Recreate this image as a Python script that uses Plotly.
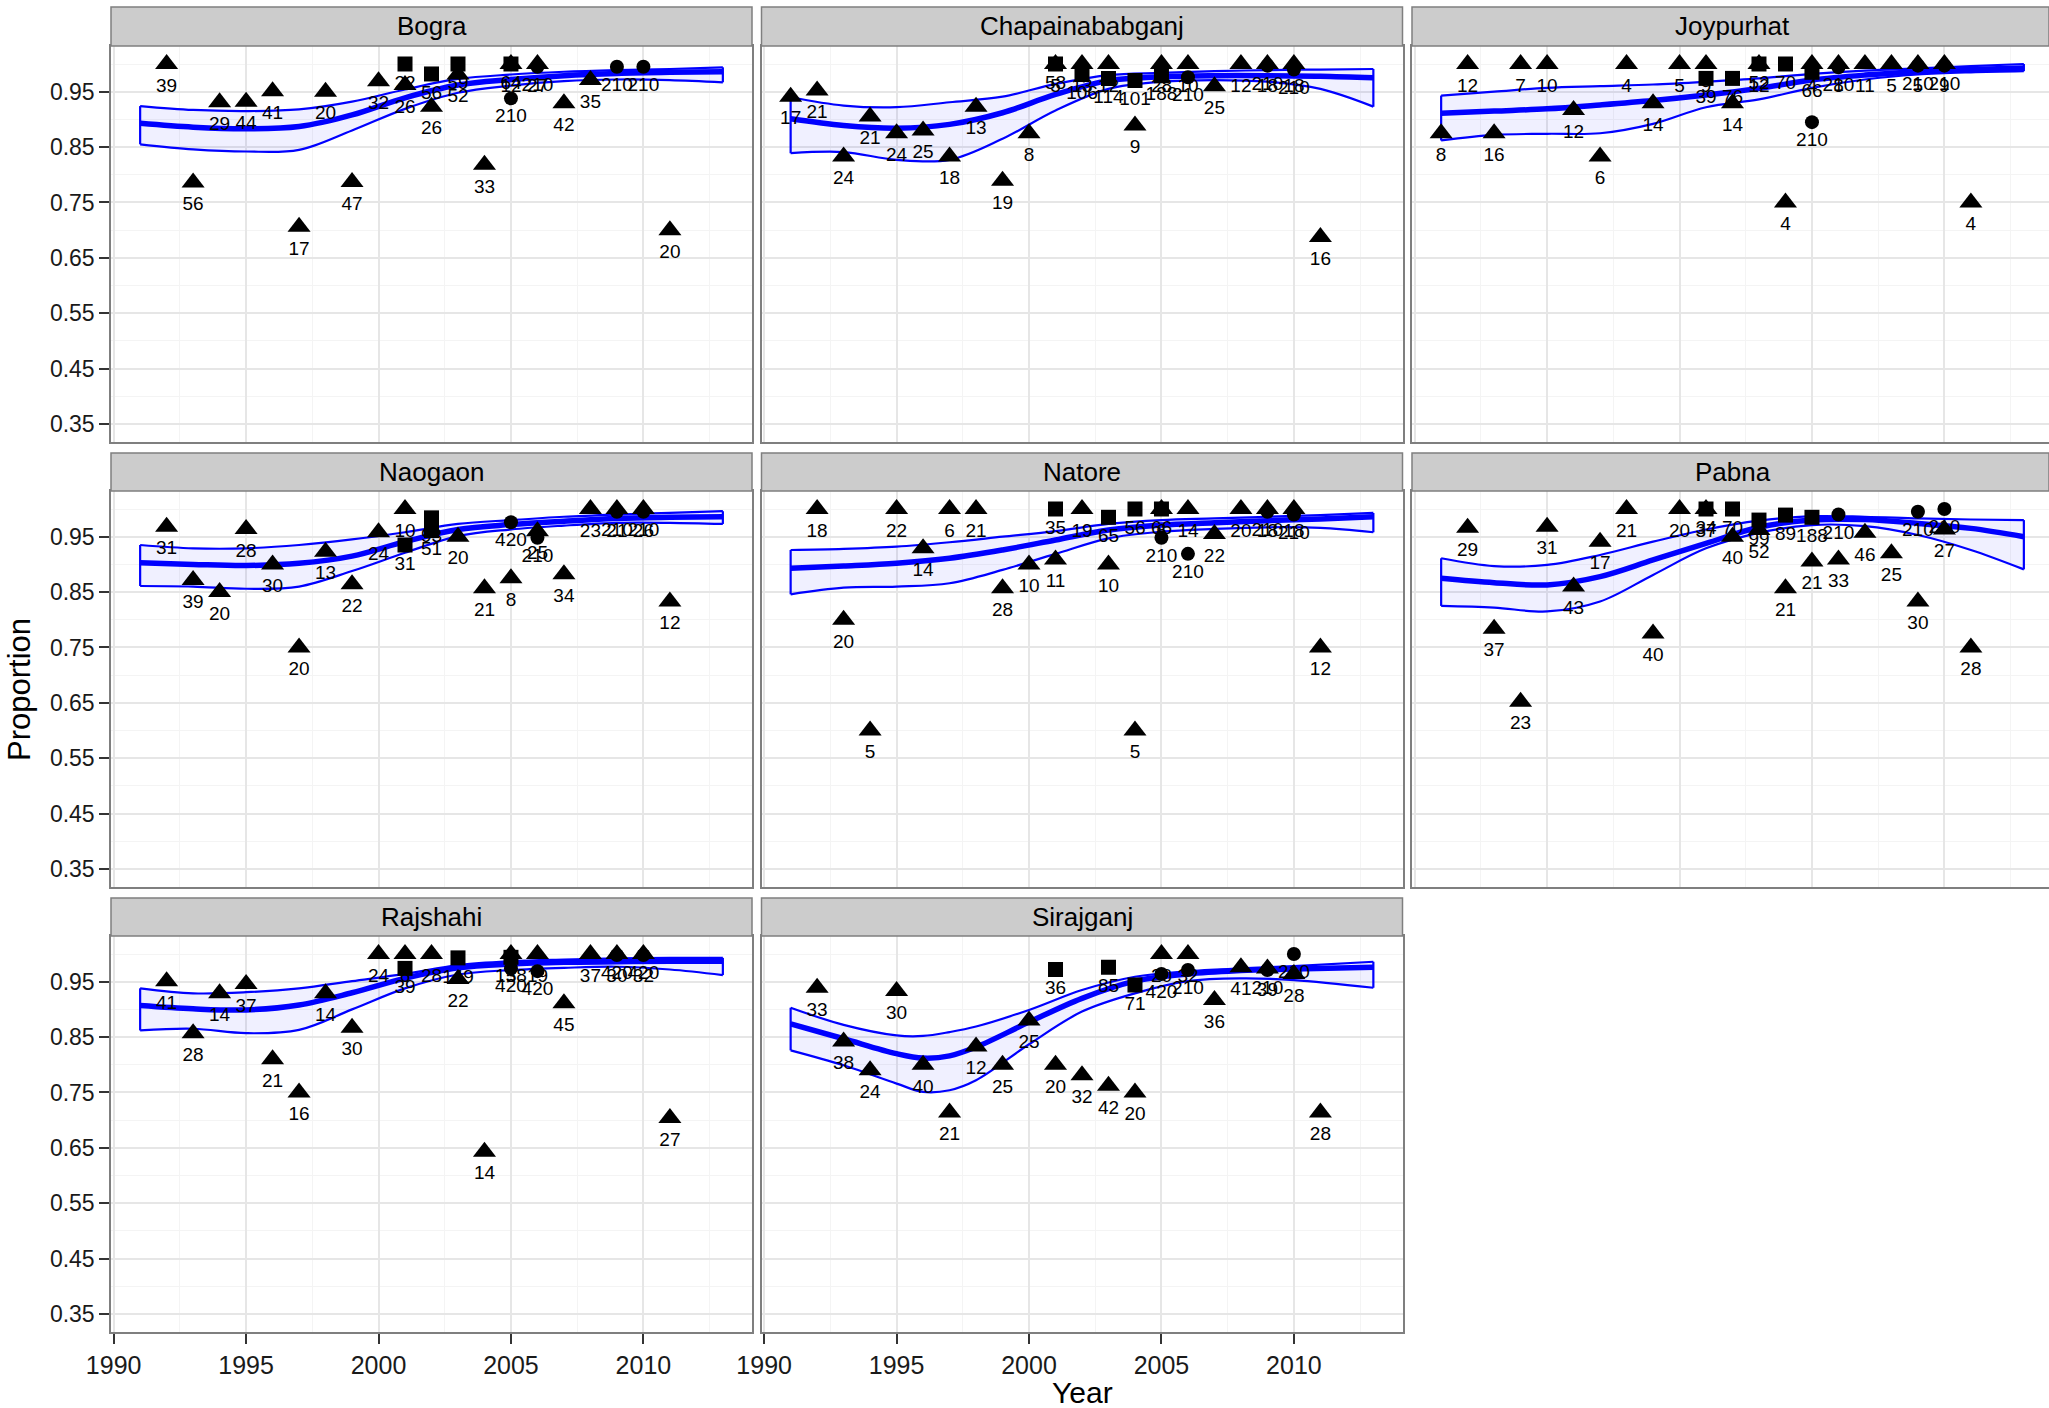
import plotly.graph_objects as go

# ---------------- data ----------------
panels = ["Bogra", "Chapainababganj", "Joypurhat", "Naogaon",
          "Natore", "Pabna", "Rajshahi", "Sirajganj"]

# point data per district: year, proportion, source shape (T=triangle, S=square, C=circle), sample size label
bogra_year = [1992, 1993, 1994, 1995, 1996, 1997, 1998, 1999, 2000, 2001, 2001, 2002, 2002, 2003, 2003,
              2004, 2005, 2005, 2005, 2006, 2006, 2007, 2008, 2009, 2010, 2011]
bogra_prop = [1.0, 0.786, 0.931, 0.932, 0.951, 0.706, 0.95, 0.787, 0.969, 1.0, 0.962, 0.982, 0.923, 1.0, 0.981,
              0.818, 1.0, 1.0, 0.938, 1.0, 0.995, 0.929, 0.971, 0.995, 0.995, 0.70]
bogra_shape = ["T", "T", "T", "T", "T", "T", "T", "T", "T", "S", "T", "S", "T", "S", "T",
               "T", "S", "T", "C", "T", "C", "T", "T", "C", "C", "T"]
bogra_n = [39, 56, 29, 44, 41, 17, 20, 47, 32, 22, 26, 56, 26, 59, 52,
           33, 64, 12, 210, 27, 210, 42, 35, 210, 210, 20]

chapai_year = [1991, 1992, 1993, 1994, 1995, 1996, 1997, 1998, 1999, 2000, 2001, 2001, 2002, 2002, 2003, 2003,
               2004, 2004, 2005, 2005, 2006, 2006, 2007, 2008, 2009, 2009, 2010, 2010, 2011]
chapai_prop = [0.941, 0.952, 0.833, 0.905, 0.875, 0.88, 0.833, 0.923, 0.789, 0.875, 1.0, 1.0, 1.0, 0.981, 1.0, 0.974,
               0.970, 0.889, 1.0, 0.979, 1.0, 0.976, 0.96, 1.0, 1.0, 0.997, 1.0, 0.990, 0.6875]
chapai_shape = ["T", "T", "T", "T", "T", "T", "T", "T", "T", "T", "T", "S", "T", "S", "T", "S",
                "S", "T", "T", "S", "T", "C", "T", "T", "T", "C", "T", "C", "T"]
chapai_n = [17, 21, 24, 21, 24, 25, 18, 13, 19, 8, 5, 58, 13, 106, 12, 114,
            101, 9, 28, 188, 10, 210, 25, 12, 18, 210, 18, 210, 16]

joy_year = [1991, 1992, 1993, 1994, 1995, 1996, 1997, 1998, 1999, 2000, 2001, 2001, 2002, 2002, 2003, 2003,
            2004, 2004, 2005, 2005, 2005, 2006, 2006, 2007, 2008, 2009, 2009, 2010, 2010, 2011]
joy_prop = [0.875, 1.0, 0.875, 1.0, 1.0, 0.917, 0.833, 1.0, 0.929, 1.0, 1.0, 0.974, 0.974, 0.929, 1.0, 1.0,
            1.0, 0.75, 1.0, 0.985, 0.895, 1.0, 0.994, 1.0, 1.0, 1.0, 0.997, 1.0, 0.997, 0.75]
joy_shape = ["T", "T", "T", "T", "T", "T", "T", "T", "T", "T", "T", "S", "S", "T", "T", "S",
             "S", "T", "T", "S", "C", "T", "C", "T", "T", "T", "C", "T", "C", "T"]
joy_n = [8, 12, 16, 7, 10, 12, 6, 4, 14, 5, 9, 39, 76, 14, 12, 52,
         70, 4, 4, 66, 210, 8, 210, 11, 5, 5, 210, 9, 210, 4]

nao_year = [1992, 1993, 1994, 1995, 1996, 1997, 1998, 1999, 2000, 2001, 2001, 2002, 2002, 2003, 2004,
            2005, 2005, 2006, 2006, 2007, 2008, 2009, 2009, 2010, 2010, 2011]
nao_prop = [0.968, 0.872, 0.85, 0.964, 0.90, 0.75, 0.923, 0.864, 0.958, 1.0, 0.935, 0.984, 0.961, 0.95, 0.857,
            0.976, 0.875, 0.96, 0.948, 0.882, 1.0, 1.0, 0.995, 1.0, 0.995, 0.833]
nao_shape = ["T", "T", "T", "T", "T", "T", "T", "T", "T", "T", "S", "S", "S", "T", "T",
             "C", "T", "T", "C", "T", "T", "T", "C", "T", "C", "T"]
nao_n = [31, 39, 20, 28, 30, 20, 13, 22, 24, 10, 31, 93, 51, 20, 21,
         420, 8, 25, 210, 34, 23, 21, 210, 26, 210, 12]

nat_year = [1992, 1993, 1994, 1995, 1996, 1997, 1998, 1999, 2000, 2001, 2001, 2002, 2003, 2003, 2004, 2004,
            2005, 2005, 2005, 2006, 2006, 2007, 2008, 2009, 2009, 2010, 2010, 2011]
nat_prop = [1.0, 0.80, 0.60, 1.0, 0.929, 1.0, 1.0, 0.857, 0.90, 1.0, 0.909, 1.0, 0.985, 0.90, 1.0, 0.60,
            1.0, 1.0, 0.948, 1.0, 0.919, 0.955, 1.0, 1.0, 0.995, 1.0, 0.990, 0.75]
nat_shape = ["T", "T", "T", "T", "T", "T", "T", "T", "T", "S", "T", "T", "S", "T", "S", "T",
             "T", "S", "C", "T", "C", "T", "T", "T", "C", "T", "C", "T"]
nat_n = [18, 20, 5, 22, 14, 6, 21, 28, 10, 35, 11, 19, 65, 10, 56, 5,
         6, 66, 210, 14, 210, 22, 20, 18, 210, 18, 210, 12]

pab_year = [1992, 1993, 1994, 1995, 1996, 1997, 1998, 1999, 2000, 2001, 2001, 2002, 2002, 2003, 2003,
            2004, 2004, 2005, 2005, 2006, 2006, 2007, 2008, 2009, 2009, 2010, 2010, 2011]
pab_prop = [0.966, 0.784, 0.652, 0.968, 0.86, 0.941, 1.0, 0.775, 1.0, 1.0, 1.0, 1.0, 0.95, 0.98, 0.962,
            0.989, 0.857, 0.985, 0.905, 0.99, 0.909, 0.957, 0.92, 0.995, 0.833, 1.0, 0.963, 0.75]
pab_shape = ["T", "T", "T", "T", "T", "T", "T", "T", "T", "T", "S", "S", "T", "S", "T",
             "S", "T", "S", "T", "C", "T", "T", "T", "C", "T", "C", "T", "T"]
pab_n = [29, 37, 23, 31, 43, 17, 21, 40, 20, 37, 34, 70, 40, 99, 52,
         89, 21, 188, 21, 210, 33, 46, 25, 210, 30, 210, 27, 28]

raj_year = [1992, 1993, 1994, 1995, 1996, 1997, 1998, 1999, 2000, 2001, 2001, 2002, 2003, 2003, 2004,
            2005, 2005, 2005, 2006, 2006, 2007, 2008, 2009, 2009, 2010, 2010, 2011]
raj_prop = [0.951, 0.857, 0.929, 0.946, 0.81, 0.75, 0.929, 0.867, 1.0, 1.0, 0.974, 1.0, 0.993, 0.955, 0.643,
            1.0, 0.994, 0.974, 1.0, 0.969, 0.911, 1.0, 1.0, 0.998, 1.0, 0.998, 0.704]
raj_shape = ["T", "T", "T", "T", "T", "T", "T", "T", "T", "T", "S", "T", "S", "T", "T",
             "T", "S", "C", "T", "C", "T", "T", "T", "C", "T", "C", "T"]
raj_n = [41, 28, 14, 37, 21, 16, 14, 30, 24, 6, 39, 28, 149, 22, 14,
         3, 158, 420, 19, 420, 45, 37, 30, 420, 32, 420, 27]

sir_year = [1992, 1993, 1994, 1995, 1996, 1997, 1998, 1999, 2000, 2001, 2001, 2002, 2003, 2003, 2004, 2004,
            2005, 2005, 2006, 2006, 2007, 2008, 2009, 2009, 2010, 2010, 2011]
sir_prop = [0.939, 0.842, 0.79, 0.933, 0.80, 0.714, 0.833, 0.80, 0.88, 0.972, 0.80, 0.781, 0.976, 0.762, 0.944, 0.75,
            1.0, 0.964, 1.0, 0.971, 0.917, 0.976, 0.974, 0.971, 1.0, 0.964, 0.714]
sir_shape = ["T", "T", "T", "T", "T", "T", "T", "T", "T", "S", "T", "T", "S", "T", "S", "T",
             "T", "C", "T", "C", "T", "T", "T", "C", "C", "T", "T"]
sir_n = [33, 38, 24, 30, 40, 21, 12, 25, 25, 36, 20, 32, 85, 42, 71, 20,
         20, 420, 32, 210, 36, 41, 39, 210, 210, 28, 28]

# smoothed trend (fit) and its confidence band
smooth_year = [1991, 1993, 1995, 1997, 1999, 2001, 2003, 2005, 2007, 2009, 2011, 2013]

bogra_fit = [0.893, 0.886, 0.883, 0.887, 0.908, 0.939, 0.962, 0.972, 0.979, 0.983, 0.985, 0.986]
bogra_hi = [0.924, 0.917, 0.915, 0.918, 0.932, 0.954, 0.973, 0.981, 0.986, 0.989, 0.991, 0.994]
bogra_lo = [0.855, 0.846, 0.842, 0.845, 0.880, 0.919, 0.948, 0.961, 0.969, 0.972, 0.971, 0.967]

chapai_fit = [0.901, 0.889, 0.884, 0.891, 0.912, 0.945, 0.970, 0.977, 0.979, 0.979, 0.978, 0.975]
chapai_hi = [0.940, 0.925, 0.922, 0.931, 0.941, 0.964, 0.980, 0.984, 0.987, 0.989, 0.990, 0.991]
chapai_lo = [0.839, 0.841, 0.827, 0.827, 0.865, 0.916, 0.955, 0.968, 0.971, 0.968, 0.955, 0.923]

joy_fit = [0.911, 0.915, 0.919, 0.926, 0.934, 0.944, 0.956, 0.971, 0.980, 0.986, 0.990, 0.993]
joy_hi = [0.943, 0.950, 0.957, 0.960, 0.963, 0.968, 0.974, 0.982, 0.988, 0.992, 0.996, 1.000]
joy_lo = [0.862, 0.872, 0.874, 0.875, 0.892, 0.922, 0.936, 0.957, 0.972, 0.981, 0.985, 0.987]

nao_fit = [0.903, 0.900, 0.898, 0.902, 0.915, 0.941, 0.963, 0.972, 0.978, 0.983, 0.985, 0.986]
nao_hi = [0.935, 0.929, 0.929, 0.935, 0.945, 0.958, 0.973, 0.980, 0.986, 0.990, 0.993, 0.996]
nao_lo = [0.861, 0.860, 0.856, 0.860, 0.888, 0.921, 0.951, 0.963, 0.970, 0.975, 0.975, 0.973]

nat_fit = [0.893, 0.897, 0.902, 0.911, 0.926, 0.944, 0.962, 0.971, 0.975, 0.979, 0.982, 0.986]
nat_hi = [0.926, 0.928, 0.932, 0.940, 0.950, 0.960, 0.973, 0.980, 0.983, 0.986, 0.989, 0.993]
nat_lo = [0.846, 0.858, 0.860, 0.866, 0.890, 0.919, 0.947, 0.959, 0.964, 0.967, 0.966, 0.958]

pab_fit = [0.875, 0.867, 0.863, 0.878, 0.908, 0.938, 0.967, 0.980, 0.981, 0.974, 0.965, 0.950]
pab_hi = [0.911, 0.897, 0.899, 0.917, 0.941, 0.963, 0.979, 0.987, 0.986, 0.983, 0.981, 0.980]
pab_lo = [0.825, 0.822, 0.815, 0.833, 0.881, 0.929, 0.957, 0.971, 0.969, 0.953, 0.926, 0.891]

raj_fit = [0.907, 0.901, 0.899, 0.908, 0.930, 0.956, 0.975, 0.982, 0.985, 0.986, 0.987, 0.987]
raj_hi = [0.938, 0.929, 0.931, 0.938, 0.951, 0.964, 0.980, 0.987, 0.990, 0.992, 0.993, 0.993]
raj_lo = [0.862, 0.865, 0.857, 0.863, 0.900, 0.938, 0.963, 0.971, 0.975, 0.977, 0.972, 0.962]

sir_smooth_year = [1991, 1993, 1995, 1996, 1997, 1998, 2000, 2002, 2004, 2006, 2008, 2010, 2013]
sir_fit = [0.874, 0.847, 0.820, 0.812, 0.816, 0.832, 0.877, 0.920, 0.951, 0.964, 0.970, 0.973, 0.976]
sir_hi = [0.903, 0.872, 0.853, 0.852, 0.859, 0.869, 0.899, 0.935, 0.959, 0.969, 0.974, 0.978, 0.986]
sir_lo = [0.826, 0.799, 0.766, 0.751, 0.754, 0.772, 0.837, 0.896, 0.929, 0.951, 0.956, 0.953, 0.939]

y_ticks = [0.35, 0.45, 0.55, 0.65, 0.75, 0.85, 0.95]
y_minor = [0.40, 0.50, 0.60, 0.70, 0.80, 0.90, 1.00]
x_ticks = [1990, 1995, 2000, 2005, 2010]
x_minor = [1992.5, 1997.5, 2002.5, 2007.5, 2012.5]

# ---------------- assembly ----------------
points = [
    (bogra_year, bogra_prop, bogra_shape, bogra_n),
    (chapai_year, chapai_prop, chapai_shape, chapai_n),
    (joy_year, joy_prop, joy_shape, joy_n),
    (nao_year, nao_prop, nao_shape, nao_n),
    (nat_year, nat_prop, nat_shape, nat_n),
    (pab_year, pab_prop, pab_shape, pab_n),
    (raj_year, raj_prop, raj_shape, raj_n),
    (sir_year, sir_prop, sir_shape, sir_n),
]
smooths = [
    (smooth_year, bogra_fit, bogra_lo, bogra_hi),
    (smooth_year, chapai_fit, chapai_lo, chapai_hi),
    (smooth_year, joy_fit, joy_lo, joy_hi),
    (smooth_year, nao_fit, nao_lo, nao_hi),
    (smooth_year, nat_fit, nat_lo, nat_hi),
    (smooth_year, pab_fit, pab_lo, pab_hi),
    (smooth_year, raj_fit, raj_lo, raj_hi),
    (sir_smooth_year, sir_fit, sir_lo, sir_hi),
]

W, H = 2049, 1408
FONT = "Liberation Sans, Arial, Helvetica, sans-serif"
cols_px = [(111, 752), (761.5, 1402.5), (1412, 2049)]
rows_px = [(46, 442), (491, 887), (936, 1332)]
strips_px = [(7, 46), (453, 491), (898, 936)]
px_per_year = 641 / 24.2
XR = [1989.9, 2014.1]
YR = [0.3175, 1.0325]

sym = {"T": "triangle-up", "S": "square", "C": "circle"}
msize = {"T": 20, "S": 15, "C": 14}

fig = go.Figure()
layout = dict(
    template="none",
    width=W, height=H, margin=dict(l=0, r=0, t=0, b=0, pad=0, autoexpand=False),
    paper_bgcolor="white", plot_bgcolor="white", showlegend=False,
    font=dict(family=FONT, color="black"),
)
shapes = []
annotations = []

for i, name in enumerate(panels):
    r, c = divmod(i, 3)
    ax = "" if i == 0 else str(i + 1)
    xref, yref = "x" + ax, "y" + ax
    x0, x1 = cols_px[c]
    y0, y1 = rows_px[r]
    xr = list(XR)
    if c == 2:
        xr[1] = XR[1] - (2053 - 2049) / px_per_year
    layout["xaxis" + ax] = dict(
        domain=[x0 / W, x1 / W], range=xr, anchor=yref, automargin=False,
        tickmode="array", tickvals=x_ticks, showticklabels=(r == 2),
        ticks="outside" if r == 2 else "", ticklen=10, tickwidth=2, tickcolor="#333333",
        tickfont=dict(size=25, color="#1a1a1a", family=FONT),
        showgrid=True, gridcolor="#E6E6E6", gridwidth=1.5,
        minor=dict(tickmode="array", tickvals=x_minor, showgrid=True, gridcolor="#F4F4F4", gridwidth=1.2),
        showline=True, mirror=True, linecolor="#7F7F7F", linewidth=1.5, zeroline=False,
    )
    layout["yaxis" + ax] = dict(
        domain=[1 - y1 / H, 1 - y0 / H], range=YR, anchor=xref, automargin=False,
        tickmode="array", tickvals=y_ticks, ticktext=[f"{v:.2f}" for v in y_ticks],
        showticklabels=(c == 0), ticks="outside" if c == 0 else "", ticklen=10, tickwidth=2,
        tickcolor="#333333", tickfont=dict(size=23, color="#1a1a1a", family=FONT),
        showgrid=True, gridcolor="#E6E6E6", gridwidth=1.5,
        minor=dict(tickmode="array", tickvals=y_minor, showgrid=True, gridcolor="#F4F4F4", gridwidth=1.2),
        showline=True, mirror=True, linecolor="#7F7F7F", linewidth=1.5, zeroline=False,
    )

    sx, fit, lo, hi = smooths[i]
    fig.add_trace(go.Scatter(x=sx, y=lo, xaxis=xref, yaxis=yref, mode="lines",
                             line=dict(color="blue", width=2.2, shape="spline", smoothing=1.0),
                             hoverinfo="skip"))
    fig.add_trace(go.Scatter(x=sx, y=hi, xaxis=xref, yaxis=yref, mode="lines", fill="tonexty",
                             fillcolor="rgba(40,40,255,0.07)",
                             line=dict(color="blue", width=2.2, shape="spline", smoothing=1.0),
                             hoverinfo="skip"))
    fig.add_trace(go.Scatter(x=[sx[0], sx[0], None, sx[-1], sx[-1]],
                             y=[lo[0], hi[0], None, lo[-1], hi[-1]],
                             xaxis=xref, yaxis=yref, mode="lines",
                             line=dict(color="blue", width=2.2), hoverinfo="skip"))
    fig.add_trace(go.Scatter(x=sx, y=fit, xaxis=xref, yaxis=yref, mode="lines",
                             line=dict(color="blue", width=5.5, shape="spline", smoothing=1.0)))

    yrs, props, shp, ns = points[i]
    fig.add_trace(go.Scatter(
        x=yrs, y=props, xaxis=xref, yaxis=yref, mode="markers+text",
        marker=dict(color="#000000", opacity=1, symbol=[sym[s] for s in shp],
                    size=[msize[s] for s in shp], line=dict(width=0)),
        text=[str(n) for n in ns], textposition="bottom center",
        textfont=dict(size=19, color="black", family=FONT),
    ))

    sy0, sy1 = strips_px[r]
    shapes.append(dict(type="rect", xref="paper", yref="paper",
                       x0=x0 / W, x1=x1 / W, y0=1 - sy1 / H, y1=1 - sy0 / H,
                       fillcolor="#CCCCCC", line=dict(color="#7F7F7F", width=1.5), layer="above"))
    annotations.append(dict(text=name, xref="paper", yref="paper",
                            x=(x0 + 641 / 2) / W, y=1 - (sy0 + sy1) / 2 / H,
                            xanchor="center", yanchor="middle", showarrow=False,
                            font=dict(size=26, color="black", family=FONT)))

annotations.append(dict(text="Year", xref="paper", yref="paper", x=1082 / W, y=1 - 1392 / H,
                        xanchor="center", yanchor="middle", showarrow=False,
                        font=dict(size=30, color="black", family=FONT)))
annotations.append(dict(text="Proportion", xref="paper", yref="paper", x=20 / W, y=1 - 690 / H,
                        xanchor="center", yanchor="middle", showarrow=False, textangle=-90,
                        font=dict(size=31, color="black", family=FONT)))

layout["shapes"] = shapes
layout["annotations"] = annotations
fig.update_layout(**layout)
fig.write_html(
    "out.html",
    config={"displayModeBar": False},
    post_script="document.body.style.margin='0';document.body.style.overflow='hidden';",
)
